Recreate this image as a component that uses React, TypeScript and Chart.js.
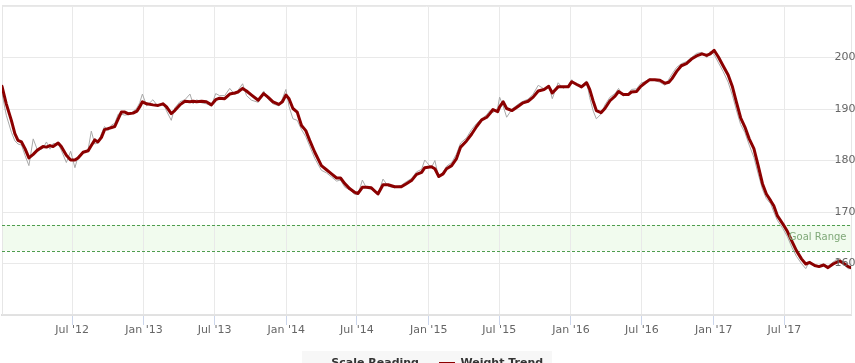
import React, { useEffect, useRef } from 'react';
import { Chart, registerables } from 'chart.js';

Chart.register(...registerables);

const dates = [
  '2012-01-03', '2012-01-14', '2012-01-27', '2012-02-05', '2012-02-13', '2012-02-22', '2012-03-02', '2012-03-12', '2012-03-23', '2012-04-04',
  '2012-04-17', '2012-04-26', '2012-05-05', '2012-05-13', '2012-05-26', '2012-06-03', '2012-06-16', '2012-06-27', '2012-07-08', '2012-07-16',
  '2012-07-29', '2012-08-11', '2012-08-19', '2012-08-28', '2012-09-05', '2012-09-14', '2012-09-22', '2012-10-01', '2012-10-10', '2012-10-18',
  '2012-10-27', '2012-11-04', '2012-11-13', '2012-11-21', '2012-12-04', '2012-12-14', '2012-12-21', '2012-12-28', '2013-01-08', '2013-01-24',
  '2013-02-06', '2013-02-19', '2013-02-28', '2013-03-12', '2013-03-21', '2013-04-03', '2013-04-16', '2013-04-29', '2013-05-07', '2013-05-16',
  '2013-05-29', '2013-06-10', '2013-06-23', '2013-07-04', '2013-07-14', '2013-07-27', '2013-08-09', '2013-08-22', '2013-08-30', '2013-09-11',
  '2013-09-21', '2013-10-04', '2013-10-21', '2013-11-04', '2013-11-15', '2013-11-28', '2013-12-13', '2013-12-22', '2013-12-31', '2014-01-08',
  '2014-01-18', '2014-01-29', '2014-02-09', '2014-02-20', '2014-03-02', '2014-03-15', '2014-04-01', '2014-04-14', '2014-04-27', '2014-05-10',
  '2014-05-20', '2014-05-31', '2014-06-13', '2014-06-26', '2014-07-04', '2014-07-15', '2014-07-26', '2014-08-07', '2014-08-24', '2014-09-06',
  '2014-09-19', '2014-10-06', '2014-10-23', '2014-11-05', '2014-11-18', '2014-12-01', '2014-12-14', '2014-12-22', '2015-01-08', '2015-01-17',
  '2015-01-27', '2015-02-07', '2015-02-16', '2015-03-01', '2015-03-13', '2015-03-24', '2015-04-08', '2015-04-21', '2015-05-04', '2015-05-17',
  '2015-05-30', '2015-06-07', '2015-06-15', '2015-06-27', '2015-07-02', '2015-07-11', '2015-07-20', '2015-08-03', '2015-08-18', '2015-08-31',
  '2015-09-13', '2015-09-26', '2015-10-09', '2015-10-24', '2015-11-05', '2015-11-14', '2015-11-29', '2015-12-12', '2015-12-25', '2016-01-03',
  '2016-01-15', '2016-01-28', '2016-02-10', '2016-02-18', '2016-02-27', '2016-03-06', '2016-03-18', '2016-03-28', '2016-04-10', '2016-04-23',
  '2016-05-02', '2016-05-14', '2016-05-27', '2016-06-04', '2016-06-17', '2016-06-28', '2016-07-08', '2016-07-21', '2016-08-03', '2016-08-16',
  '2016-08-29', '2016-09-08', '2016-09-16', '2016-09-28', '2016-10-10', '2016-10-23', '2016-11-05', '2016-11-18', '2016-12-02', '2016-12-14',
  '2016-12-23', '2017-01-02', '2017-01-13', '2017-01-25', '2017-02-07', '2017-02-18', '2017-02-28', '2017-03-11', '2017-03-22', '2017-04-02',
  '2017-04-14', '2017-04-25', '2017-05-06', '2017-05-16', '2017-05-27', '2017-06-04', '2017-06-13', '2017-06-27', '2017-07-09', '2017-07-20',
  '2017-08-01', '2017-08-14', '2017-08-25', '2017-09-04', '2017-09-17', '2017-09-28', '2017-10-10', '2017-10-21', '2017-11-03', '2017-11-20',
  '2017-12-03', '2017-12-12', '2017-12-19',
];

const weightTrend = [
  194.4, 191.0, 187.8, 185.2, 183.9, 183.6, 182.3, 180.5, 181.2, 182.1,
  182.7, 182.6, 182.9, 182.7, 183.4, 182.7, 181.0, 180.1, 180.1, 180.5,
  181.6, 181.9, 182.9, 184.0, 183.6, 184.5, 186.0, 186.2, 186.4, 186.6,
  188.1, 189.4, 189.4, 189.1, 189.2, 189.6, 190.4, 191.4, 191.0, 190.8,
  190.7, 191.0, 190.4, 189.1, 189.7, 190.8, 191.5, 191.4, 191.5, 191.4,
  191.5, 191.4, 190.8, 191.8, 192.1, 192.0, 192.9, 193.1, 193.3, 194.0,
  193.5, 192.7, 191.7, 193.0, 192.3, 191.4, 190.9, 191.4, 192.7, 192.0,
  190.1, 189.4, 186.8, 185.8, 183.9, 181.6, 179.0, 178.2, 177.4, 176.6,
  176.6, 175.5, 174.5, 173.8, 173.6, 174.8, 174.8, 174.7, 173.5, 175.3,
  175.3, 174.9, 174.9, 175.5, 176.1, 177.3, 177.7, 178.6, 178.8, 178.4,
  176.9, 177.4, 178.4, 179.0, 180.3, 182.6, 183.8, 185.1, 186.6, 187.9,
  188.4, 189.1, 189.9, 189.5, 190.4, 191.4, 190.1, 189.7, 190.5, 191.2,
  191.5, 192.3, 193.5, 193.8, 194.4, 193.1, 194.3, 194.3, 194.3, 195.3,
  194.8, 194.3, 195.1, 193.8, 191.5, 189.7, 189.3, 190.1, 191.6, 192.5,
  193.4, 192.8, 192.8, 193.3, 193.4, 194.4, 195.0, 195.7, 195.7, 195.6,
  195.0, 195.2, 195.9, 197.3, 198.4, 198.8, 199.7, 200.3, 200.7, 200.4,
  200.7, 201.4, 200.1, 198.4, 196.6, 194.3, 191.4, 188.3, 186.5, 184.2,
  182.3, 179.0, 175.5, 173.5, 172.2, 171.2, 169.3, 167.7, 166.2, 164.4,
  162.5, 160.9, 159.9, 160.2, 159.6, 159.4, 159.7, 159.2, 159.9, 160.5,
  159.9, 159.4, 159.2,
];

const scaleReading = [
  193.0, 188.8, 185.5, 183.8, 183.2, 183.0, 181.0, 179.0, 184.2, 181.8,
  182.4, 183.6, 182.2, 183.3, 183.2, 182.0, 179.6, 181.8, 178.6, 180.8,
  181.4, 182.2, 185.7, 183.2, 183.4, 185.2, 186.6, 185.8, 186.9, 187.2,
  189.0, 189.0, 188.8, 188.9, 189.5, 190.2, 191.2, 192.9, 190.6, 191.8,
  190.5, 191.2, 189.6, 187.8, 190.2, 191.4, 191.8, 192.9, 191.0, 191.8,
  191.2, 191.0, 190.6, 193.0, 192.6, 192.6, 194.0, 192.8, 193.6, 194.9,
  192.6, 191.7, 191.3, 193.5, 191.9, 191.0, 190.6, 192.0, 193.8, 190.5,
  188.1, 187.8, 186.0, 184.6, 182.8, 180.4, 178.1, 177.6, 176.8, 176.0,
  176.2, 174.8, 174.3, 173.4, 173.4, 176.2, 174.6, 174.4, 173.4, 176.4,
  175.0, 174.7, 175.2, 175.9, 176.5, 177.8, 178.3, 180.1, 178.6, 180.0,
  176.6, 177.8, 178.9, 179.6, 181.2, 183.4, 184.4, 186.0, 187.2, 188.1,
  188.9, 189.7, 189.3, 190.2, 192.3, 190.6, 188.4, 190.0, 190.9, 191.5,
  191.9, 192.9, 194.6, 193.9, 194.6, 192.0, 195.1, 194.0, 194.6, 195.7,
  194.5, 194.6, 195.4, 192.2, 189.6, 188.1, 189.0, 190.8, 192.3, 193.0,
  194.0, 192.5, 193.0, 193.8, 193.9, 195.0, 195.3, 195.9, 195.5, 195.2,
  194.6, 195.8, 196.8, 198.1, 198.8, 199.2, 200.0, 200.8, 201.0, 200.0,
  201.2, 200.6, 199.0, 197.3, 195.2, 192.6, 189.8, 187.0, 185.4, 183.0,
  180.6, 177.4, 174.4, 172.6, 171.6, 170.0, 168.4, 166.8, 165.2, 163.2,
  161.4, 160.0, 159.0, 160.5, 159.4, 159.6, 159.9, 159.4, 160.3, 161.0,
  159.6, 159.0, 159.0,
];

const tickDates = [
  '2012-07-01', '2013-01-01', '2013-07-01', '2014-01-01', '2014-07-01', '2015-01-01',
  '2015-07-01', '2016-01-01', '2016-07-01', '2017-01-01', '2017-07-01',
];
const tickLabels = [
  "Jul '12", "Jan '13", "Jul '13", "Jan '14", "Jul '14", "Jan '15",
  "Jul '15", "Jan '16", "Jul '16", "Jan '17", "Jul '17",
];

const yRange = [150, 210];
const yStep = 10;
const goalRange = [162.5, 167.5];
const goalLabel = 'Goal Range';
const seriesNames = ['Scale Reading', 'Weight Trend'];

const toDay = (s: string) => {
  const [y, m, d] = s.split('-').map(Number);
  return Date.UTC(y, m - 1, d) / 86400000;
};

const FONT = '"DejaVu Sans", "Liberation Sans", sans-serif';

const decorPlugin = {
  id: 'decor',
  beforeDraw(chart: any) {
    const { ctx, chartArea: a, scales } = chart;
    const y = scales.y;
    ctx.save();
    const lg: any = chart.legend;
    if (lg && lg.lineWidths && lg.lineWidths.length) {
      const pad = lg.options.labels.padding;
      const rowW = lg.lineWidths[0] - pad;
      const startX = (lg.left + pad + lg.right - lg.lineWidths[0]) / 2;
      ctx.fillStyle = '#f7f7f7';
      ctx.fillRect(Math.round(startX - 8), Math.round(lg.top + pad - 7), Math.round(rowW + 17), 32);
    }
    const t = y.getPixelForValue(goalRange[1]);
    const b = y.getPixelForValue(goalRange[0]);
    ctx.fillStyle = '#f1fbee';
    ctx.fillRect(a.left, t, a.right - a.left, b - t);
    ctx.restore();
  },
  beforeDatasetsDraw(chart: any) {
    const { ctx, chartArea: a, scales } = chart;
    const y = scales.y;
    ctx.save();
    ctx.strokeStyle = '#e6e6e6';
    ctx.lineWidth = 1;
    ctx.strokeRect(a.left + 0.5, a.top - 0.5, a.right - a.left, a.bottom - a.top + 0.5);
    ctx.strokeStyle = '#4f9d4f';
    ctx.setLineDash([3, 2]);
    for (const v of goalRange) {
      const py = Math.round(y.getPixelForValue(v)) + 0.5;
      ctx.beginPath();
      ctx.moveTo(a.left, py);
      ctx.lineTo(a.right, py);
      ctx.stroke();
    }
    ctx.restore();
  },
  afterDatasetsDraw(chart: any) {
    const { ctx, chartArea: a, scales } = chart;
    const y = scales.y;
    const mid = (y.getPixelForValue(goalRange[0]) + y.getPixelForValue(goalRange[1])) / 2;
    ctx.save();
    ctx.font = `10px ${FONT}`;
    ctx.fillStyle = '#7fa878';
    ctx.textAlign = 'right';
    ctx.textBaseline = 'middle';
    ctx.fillText(goalLabel, a.right - 4.5, mid);
    ctx.restore();
  },
};

export default function App() {
  const ref = useRef<HTMLCanvasElement | null>(null);

  useEffect(() => {
    if (!ref.current) return;
    const n = Math.min(dates.length, weightTrend.length, scaleReading.length);
    const xs = dates.slice(0, n).map(toDay);
    const chart = new Chart(ref.current, {
      type: 'line',
      data: {
        datasets: [
          {
            label: seriesNames[0],
            data: xs.map((x, i) => ({ x, y: scaleReading[i] })),
            borderColor: '#a8a8a8',
            backgroundColor: '#a8a8a8',
            borderWidth: 1,
            pointRadius: 0,
            tension: 0,
            order: 2,
          },
          {
            label: seriesNames[1],
            data: xs.map((x, i) => ({ x, y: weightTrend[i] })),
            borderColor: '#8b0000',
            backgroundColor: '#8b0000',
            borderWidth: 3,
            pointRadius: 0,
            tension: 0,
            borderJoinStyle: 'round',
            borderCapStyle: 'round',
            order: 1,
          },
        ],
      } as any,
      options: {
        animation: false,
        responsive: true,
        maintainAspectRatio: false,
        events: [],
        layout: { padding: { left: 2, right: -5, top: 6, bottom: 3 } },
        scales: {
          x: {
            type: 'linear',
            min: xs[0],
            max: xs[xs.length - 1],
            afterBuildTicks: (s: any) => {
              s.ticks = tickDates.map((d) => ({ value: toDay(d) }));
            },
            afterFit: (s: any) => {
              s.height += 2;
              s.paddingLeft = 0;
              s.paddingRight = 0;
            },
            ticks: {
              autoSkip: false,
              maxRotation: 0,
              minRotation: 0,
              padding: 0,
              color: '#666666',
              font: { family: FONT, size: 11, lineHeight: 1 },
              callback: (v: any) => {
                const i = tickDates.findIndex((d) => toDay(d) === v);
                return i >= 0 ? tickLabels[i] : '';
              },
            },
            grid: { color: '#e9e9e9', tickColor: '#ccd6eb', tickLength: 10, drawTicks: true },
            border: { color: '#dddddd', width: 2 },
          },
          y: {
            position: 'right',
            min: yRange[0],
            max: yRange[1],
            afterFit: (s: any) => {
              s.paddingTop = 0;
              s.paddingBottom = 0;
            },
            ticks: {
              stepSize: yStep,
              mirror: true,
              padding: 4.5,
              z: 1,
              color: '#666666',
              font: { family: FONT, size: 11 },
              callback: (v: any) => (v === yRange[0] || v === yRange[1] ? '' : String(v)),
            },
            grid: { color: '#e9e9e9', drawTicks: false },
            border: { display: false },
          },
        },
        plugins: {
          tooltip: { enabled: false },
          legend: {
            position: 'bottom',
            fullSize: false,
            labels: {
              usePointStyle: true,
              pointStyleWidth: 16,
              padding: 20,
              color: '#333333',
              font: { family: FONT, size: 11, weight: 'bold' },
              generateLabels: (c: any) =>
                c.data.datasets.map((ds: any, i: number) => ({
                  text: ds.label,
                  fillStyle: ds.borderColor,
                  strokeStyle: ds.borderColor,
                  lineWidth: ds.borderWidth,
                  pointStyle: 'line',
                  hidden: false,
                  datasetIndex: i,
                  fontColor: '#333333',
                })),
            },
          },
        },
      } as any,
      plugins: [decorPlugin],
    });
    return () => chart.destroy();
  }, []);

  return (
    <div style={{ position: 'fixed', left: 0, top: 0, width: 855, height: 382, background: '#ffffff' }}>
      <canvas ref={ref} />
    </div>
  );
}
